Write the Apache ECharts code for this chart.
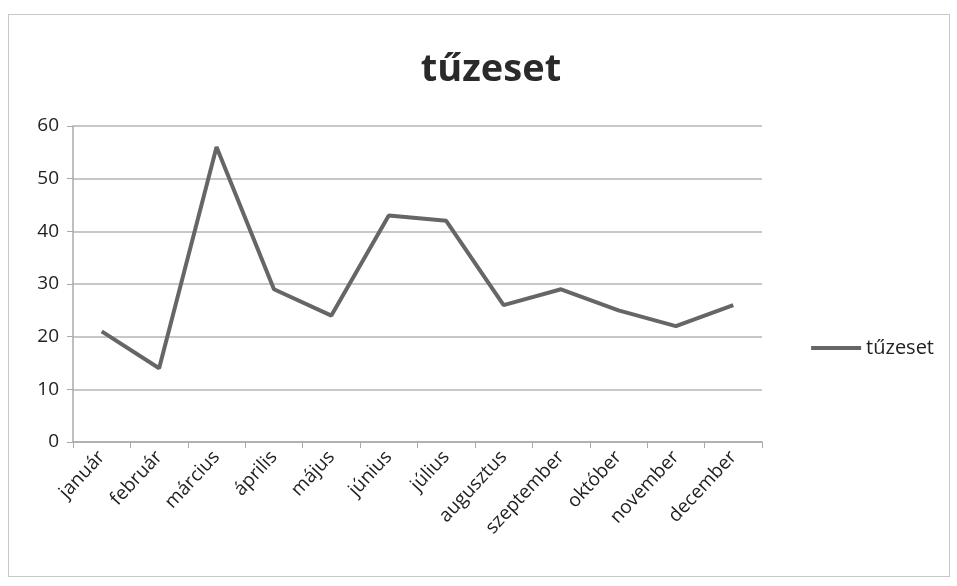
<!DOCTYPE html>
<html>
<head>
<meta charset="utf-8">
<script src="https://cdn.jsdelivr.net/npm/echarts@6/dist/echarts.min.js"></script>
<style>
  html, body { margin: 0; padding: 0; background: #fff; }
  #chart { width: 957px; height: 586px; }
  .frame { position: absolute; left: 8px; top: 14px; width: 940px; height: 561px; border: 1px solid #c8c8c8; pointer-events: none; }
</style>
</head>
<body>
<div id="chart"></div>
<div class="frame"></div>
<script>
// havi tűzesetek
var months = ['január', 'február', 'március', 'április', 'május', 'június', 'július', 'augusztus', 'szeptember', 'október', 'november', 'december']
var fires = [21, 14, 56, 29, 24, 43, 42, 26, 29, 25, 22, 26]
var seriesName = 'tűzeset'

var chart = echarts.init(document.getElementById('chart'))
var font = '"Open Sans", "DejaVu Sans", sans-serif'

chart.setOption({
  animation: false,
  title: {
    text: seriesName,
    left: 486,
    textAlign: 'center',
    top: 46,
    textStyle: {
      fontFamily: font,
      fontSize: 38,
      fontWeight: 'bold',
      color: '#2a2a2a'
    }
  },
  legend: {
    data: [seriesName],
    right: 18,
    top: 333,
    orient: 'vertical',
    icon: 'rect',
    itemWidth: 50,
    itemHeight: 4,
    itemGap: 4,
    textStyle: {
      fontFamily: font,
      fontSize: 20,
      color: '#222'
    }
  },
  grid: {
    left: 73,
    right: 195,
    top: 126,
    bottom: 144,
    containLabel: false
  },
  xAxis: {
    type: 'category',
    data: months,
    boundaryGap: true,
    axisLine: { lineStyle: { color: '#aaa', width: 1.5 } },
    axisTick: { show: true, alignWithLabel: false, length: 6, lineStyle: { color: '#aaa' } },
    axisLabel: {
      rotate: 47,
      interval: 0,
      margin: 12,
      fontFamily: font,
      fontSize: 19,
      color: '#222'
    }
  },
  yAxis: {
    type: 'value',
    min: 0,
    max: 60,
    interval: 10,
    axisLine: { show: true, lineStyle: { color: '#aaa', width: 1.5 } },
    axisTick: { show: true, length: 6, lineStyle: { color: '#aaa' } },
    splitLine: { lineStyle: { color: '#b4b4b4', width: 1.5 } },
    axisLabel: {
      margin: 14,
      fontFamily: font,
      fontSize: 19,
      color: '#222'
    }
  },
  series: [{
    name: seriesName,
    type: 'line',
    data: fires,
    symbol: 'none',
    lineStyle: { color: '#666', width: 4 },
    itemStyle: { color: '#666' }
  }]
})
</script>
</body>
</html>
